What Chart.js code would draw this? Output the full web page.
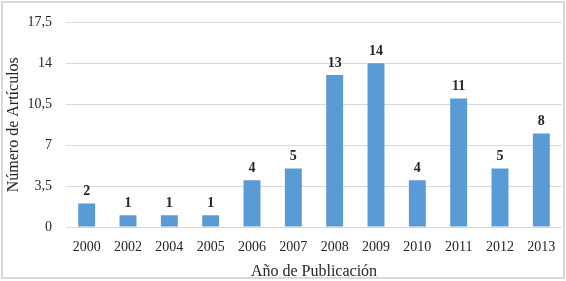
<!DOCTYPE html>
<html><head><meta charset="utf-8">
<script src="https://cdn.jsdelivr.net/npm/chart.js@4/dist/chart.umd.min.js"></script>
<style>
html,body{margin:0;padding:0;background:#fff;}
#wrap{position:relative;width:566px;height:281px;}
#frame{position:absolute;left:1px;top:1px;width:560px;height:274px;border:2px solid #d9d9d9;pointer-events:none;}
canvas{position:absolute;left:0;top:0;}
</style></head>
<body>
<div id="wrap"><canvas id="c" width="566" height="281"></canvas><div id="frame"></div></div>
<script>
const categories = ['2000','2002','2004','2005','2006','2007','2008','2009','2010','2011','2012','2013'];
const articles = [2,1,1,1,4,5,13,14,4,11,5,8];
const yTickLabels = ['0','3,5','7','10,5','14','17,5'];
const xTitle = 'Año de Publicación';
const yTitle = 'Número de Artículos';

const serif = "'Liberation Serif','Times New Roman',serif";

const labelPlugin = {
  id:'barLabels',
  afterDatasetsDraw(chart){
    const ctx = chart.ctx;
    const meta = chart.getDatasetMeta(0);
    ctx.save();
    ctx.font = 'bold 14px ' + serif;
    ctx.fillStyle = '#262626';
    ctx.textAlign = 'center';
    ctx.textBaseline = 'bottom';
    meta.data.forEach((bar,i)=>{
      ctx.fillText(String(chart.data.datasets[0].data[i]), bar.x, bar.y - 5);
    });
    ctx.restore();
  }
};

new Chart(document.getElementById('c'),{
  type:'bar',
  data:{labels:categories,datasets:[{data:articles,backgroundColor:'#5b9bd5',borderWidth:0,categoryPercentage:1,barPercentage:0.41}]},
  options:{
    responsive:false,animation:false,
    layout:{padding:{left:4,right:4,top:14,bottom:0}},
    plugins:{legend:{display:false},tooltip:{enabled:false}},
    scales:{
      x:{
        grid:{display:false},
        border:{display:false},
        ticks:{color:'#262626',font:{family:serif,size:14},padding:4,maxRotation:0},
        title:{display:true,text:xTitle,color:'#262626',font:{family:serif,size:16},padding:{top:2,bottom:0}}
      },
      y:{
        min:0,max:17.5,
        afterFit:(s)=>{s.width = 62;},
        grid:{color:'#d9d9d9',lineWidth:1,drawTicks:false},
        border:{display:false},
        ticks:{stepSize:3.5,color:'#262626',font:{family:serif,size:14},padding:14,
          callback:(v,i)=>yTickLabels[i]},
        title:{display:true,text:yTitle,color:'#262626',font:{family:serif,size:16},padding:{top:0,bottom:0}}
      }
    }
  },
  plugins:[labelPlugin]
});
</script>
</body></html>
